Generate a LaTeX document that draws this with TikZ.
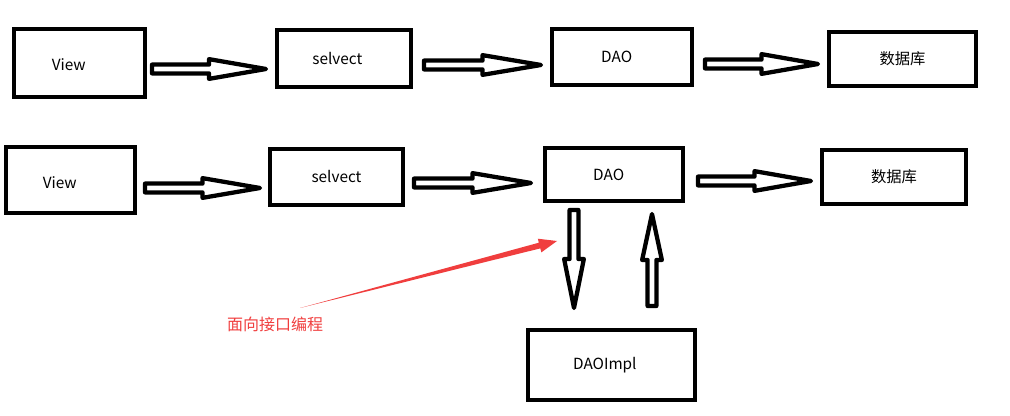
\documentclass[tikz,border=0pt]{standalone}
\usepackage{fontspec}
\setmainfont{Noto Sans CJK SC}
\usetikzlibrary{calc}
\definecolor{notered}{RGB}{240,62,62}

\begin{document}
\begin{tikzpicture}[x = 0.75pt, y = -0.75pt,
                    font = \fontsize{11.5}{13}\selectfont,
                    box/.style 2 args = {draw, line width = 3.2pt, inner sep = 0pt,
                                         minimum width = #1, minimum height = #2},
                    hollow/.style = {draw, line width = 3.2pt, line join = round,
                      to path = {
                        ($(\tikztostart)!3.3pt!90:(\tikztotarget)$)
                        -- ($(\tikztostart)!0.5!(\tikztotarget)!3.3pt!90:(\tikztotarget)$)
                        -- ($(\tikztostart)!0.5!(\tikztotarget)!7.4pt!90:(\tikztotarget)$)
                        -- (\tikztotarget)
                        -- ($(\tikztostart)!0.5!(\tikztotarget)!7.4pt!-90:(\tikztotarget)$)
                        -- ($(\tikztostart)!0.5!(\tikztotarget)!3.3pt!-90:(\tikztotarget)$)
                        -- ($(\tikztostart)!3.3pt!-90:(\tikztotarget)$)
                        -- cycle}},
                    tapered/.style = {fill = notered,
                      to path = {
                        (\tikztostart)
                        -- ($(\tikztotarget)!13.5pt!(\tikztostart)!2.2pt!90:(\tikztostart)$)
                        -- ($(\tikztotarget)!13.5pt!(\tikztostart)!5.3pt!90:(\tikztostart)$)
                        -- (\tikztotarget)
                        -- ($(\tikztotarget)!13.5pt!(\tikztostart)!5.3pt!-90:(\tikztostart)$)
                        -- ($(\tikztotarget)!13.5pt!(\tikztostart)!2.2pt!-90:(\tikztostart)$)
                        -- cycle}}]
      \useasboundingbox (0, 0) rectangle (1010, 416);

      \node [box = {98.25pt}{51pt}, label = {[xshift = -8pt, yshift = -1pt]center:View}] (view1) at (79.5, 63) {};
      \node [box = {100.5pt}{42.75pt}, label = {[xshift = -5pt]center:selvect}] (sel1) at (344, 58.5) {};
      \node [box = {105pt}{42pt}, label = {[xshift = -4pt]center:DAO}] (dao1) at (622, 57) {};
      \node [box = {110.25pt}{40.5pt}, label = {center:数据库}] (db1) at (902.5, 59) {};

      \node [box = {96.75pt}{49.5pt}, label = {[xshift = -8pt, yshift = -2pt]center:View}] (view2) at (70.5, 180) {};
      \node [box = {99.75pt}{42pt}, label = {center:selvect}] (sel2) at (336.5, 177) {};
      \node [box = {103.5pt}{39.75pt}, label = {[xshift = -4pt]center:DAO}] (dao2) at (614, 174.5) {};
      \node [box = {108pt}{40.5pt}, label = {center:数据库}] (db2) at (894, 177) {};

      \node [box = {125.25pt}{52.5pt}, label = {[xshift = -5pt]center:DAOImpl}] (impl) at (611.5, 365) {};

      \coordinate (a1s) at (152, 69);
      \coordinate (a1e) at (266, 69);
      \coordinate (a2s) at (424, 65);
      \coordinate (a2e) at (541, 65);
      \coordinate (a3s) at (705, 64);
      \coordinate (a3e) at (818, 64);

      \coordinate (b1s) at (145, 188);
      \coordinate (b1e) at (260, 188);
      \coordinate (b2s) at (414, 183);
      \coordinate (b2e) at (531, 183);
      \coordinate (b3s) at (698, 181);
      \coordinate (b3e) at (811, 181);

      \coordinate (downs) at (574, 210);
      \coordinate (downe) at (574, 308);
      \coordinate (ups) at (652, 306);
      \coordinate (upe) at (652, 214);

      \draw [hollow] (a1s) to (a1e);
      \draw [hollow] (a2s) to (a2e);
      \draw [hollow] (a3s) to (a3e);
      \draw [hollow] (b1s) to (b1e);
      \draw [hollow] (b2s) to (b2e);
      \draw [hollow] (b3s) to (b3e);
      \draw [hollow] (downs) to (downe);
      \draw [hollow] (ups) to (upe);

      \node [text = notered, font = \fontsize{12}{14}\selectfont] (note) at (275, 324) {面向接口编程};
      \coordinate (hint) at (557, 241);
      \coordinate (from) at (300, 308);
      \path [tapered] (from) to (hint);
\end{tikzpicture}
\end{document}
